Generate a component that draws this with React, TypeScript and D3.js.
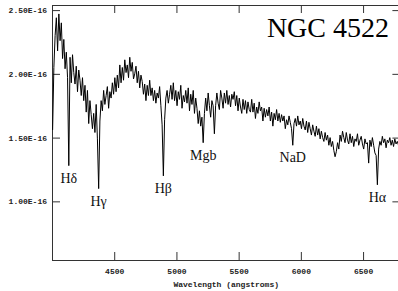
import * as d3 from "d3";
import { useEffect, useRef } from "react";

// flux in units of 1e-16, sampled every 10 angstroms from 4005
const WAVE_START = 4005;
const WAVE_STEP = 10;
const FLUX = [
    1.56, 2.05, 2.30, 2.44, 2.18, 2.47, 2.26, 2.40, 2.12, 2.27,
    2.04, 2.17, 1.97, 1.28, 2.13, 1.93, 2.15, 2.01, 1.92, 2.06,
    1.86, 2.03, 1.95, 1.83, 1.97, 1.79, 1.91, 1.70, 1.87, 1.61,
    1.79, 1.68, 1.57, 1.69, 1.54, 1.76, 1.49, 1.10, 1.63, 1.79,
    1.71, 1.87, 1.76, 1.83, 1.90, 1.73, 1.86, 1.81, 1.93, 1.84,
    1.97, 1.86, 1.99, 1.89, 2.07, 1.93, 2.05, 1.95, 2.11, 2.01,
    2.07, 1.97, 2.13, 2.02, 2.09, 1.96, 2.00, 2.06, 1.93, 2.02,
    1.89, 1.99, 1.94, 1.84, 1.92, 1.79, 1.91, 1.83, 1.95, 1.83,
    1.89, 1.79, 1.87, 1.77, 1.85, 1.81, 1.90, 1.75, 1.60, 1.20,
    1.64, 1.81, 1.87, 1.77, 1.84, 1.91, 1.80, 1.93, 1.79, 1.87,
    1.75, 1.86, 1.80, 1.91, 1.73, 1.83, 1.78, 1.87, 1.77, 1.89,
    1.71, 1.84, 1.76, 1.87, 1.69, 1.81, 1.73, 1.61, 1.71, 1.59,
    1.66, 1.46, 1.69, 1.81, 1.71, 1.85, 1.75, 1.66, 1.79, 1.75,
    1.53, 1.75, 1.85, 1.77, 1.72, 1.87, 1.81, 1.73, 1.85, 1.77,
    1.87, 1.76, 1.83, 1.74, 1.84, 1.80, 1.86, 1.75, 1.83, 1.71,
    1.81, 1.74, 1.69, 1.80, 1.72, 1.79, 1.69, 1.78, 1.72, 1.70,
    1.80, 1.70, 1.77, 1.65, 1.74, 1.69, 1.78, 1.71, 1.74, 1.63,
    1.73, 1.66, 1.72, 1.67, 1.74, 1.63, 1.70, 1.59, 1.69, 1.64,
    1.72, 1.63, 1.69, 1.62, 1.68, 1.63, 1.67, 1.57, 1.64, 1.60,
    1.67, 1.62, 1.57, 1.44, 1.61, 1.65, 1.59, 1.67, 1.60, 1.63,
    1.57, 1.65, 1.59, 1.56, 1.63, 1.54, 1.62, 1.57, 1.52, 1.60,
    1.55, 1.51, 1.59, 1.52, 1.57, 1.49, 1.55, 1.50, 1.47, 1.54,
    1.48, 1.52, 1.44, 1.50, 1.43, 1.47, 1.40, 1.35, 1.39, 1.46,
    1.41, 1.52, 1.47, 1.55, 1.50, 1.46, 1.54, 1.48, 1.45, 1.53,
    1.46, 1.51, 1.43, 1.49, 1.47, 1.53, 1.44, 1.48, 1.51, 1.45,
    1.41, 1.49, 1.45, 1.46, 1.30, 1.48, 1.43, 1.50, 1.44, 1.38,
    1.36, 1.13, 1.41, 1.47, 1.44, 1.51, 1.46, 1.49, 1.42, 1.48,
    1.46, 1.50, 1.44, 1.48, 1.43, 1.49, 1.45, 1.47, 1.44, 1.46,
];

const LINE_NAMES = ["H\u03b4", "H\u03b3", "H\u03b2", "Mgb", "NaD", "H\u03b1"];
const LINE_WAVES = [4135, 4375, 4895, 5215, 5935, 6615];

const X_TICKS = [4500, 5000, 5500, 6000, 6500];
const Y_TICKS = [1.0, 1.5, 2.0, 2.5];

const TITLE = "NGC 4522";
const X_LABEL = "Wavelength (angstroms)";

export default function App() {
    const svgRef = useRef<SVGSVGElement | null>(null);

    useEffect(() => {
        if (!svgRef.current) return;
        const svg = d3.select(svgRef.current);
        svg.selectAll("*").remove();

        const totalW = 398;
        const totalH = 291;
        const left = 52, right = 400.4, top = 5, bottom = 260;

        svg.append("rect").attr("width", totalW).attr("height", totalH).attr("fill", "#fff");

        const x = d3.scaleLinear().domain([4000, 6800]).range([left, right]);
        const y = d3.scaleLinear().domain([0.54, 2.54]).range([bottom, top]);

        const mono = "'Liberation Mono', 'DejaVu Sans Mono', monospace";
        const serif = "'Liberation Serif', 'DejaVu Serif', serif";

        const styleAxis = (g: any) => {
            g.selectAll(".tick line").attr("stroke", "#333");
            g.selectAll(".tick text")
                .attr("font-family", mono)
                .attr("font-size", 8)
                .attr("font-weight", "bold")
                .attr("fill", "#222");
        };

        svg.append("g")
            .attr("transform", `translate(0,${bottom})`)
            .call(d3.axisBottom(x).tickValues(X_TICKS).tickSize(-8).tickSizeOuter(0).tickPadding(8).tickFormat(d3.format("d")))
            .call(styleAxis);
        svg.append("g")
            .attr("transform", `translate(0,${top})`)
            .call(d3.axisTop(x).tickValues(X_TICKS).tickSize(-8).tickSizeOuter(0).tickFormat(() => ""))
            .call(styleAxis);
        svg.append("g")
            .attr("transform", `translate(${left},0)`)
            .call(d3.axisLeft(y).tickValues(Y_TICKS).tickSize(-8).tickSizeOuter(0).tickPadding(5)
                .tickFormat((d) => `${(+d).toFixed(2)}E-16`))
            .call(styleAxis);
        svg.append("g")
            .attr("transform", `translate(${right},0)`)
            .call(d3.axisRight(y).tickValues(Y_TICKS).tickSize(-8).tickSizeOuter(0).tickFormat(() => ""))
            .call(styleAxis);

        svg.selectAll(".domain").remove();
        svg.append("rect")
            .attr("x", left + 0.5).attr("y", top + 0.5)
            .attr("width", right - left).attr("height", bottom - top)
            .attr("fill", "none").attr("stroke", "#333");

        const line = d3.line<number>()
            .x((d, i) => x(WAVE_START + i * WAVE_STEP))
            .y((d) => y(d));

        svg.append("path")
            .datum(FLUX)
            .attr("fill", "none")
            .attr("stroke", "#000")
            .attr("stroke-width", 1)
            .attr("d", line);

        // labels sit a little under the bottom of each absorption line
        LINE_WAVES.forEach((w, k) => {
            const near = FLUX.filter((f, i) => Math.abs(WAVE_START + i * WAVE_STEP - w) <= 15);
            const lo = d3.min(near)!;
            svg.append("text")
                .attr("x", x(w))
                .attr("y", y(lo) + 17)
                .attr("text-anchor", "middle")
                .attr("font-family", serif)
                .attr("font-size", 14)
                .attr("fill", "#111")
                .text(LINE_NAMES[k]);
        });

        svg.append("text")
            .attr("x", 389)
            .attr("y", 37)
            .attr("text-anchor", "end")
            .attr("font-family", serif)
            .attr("font-size", 28)
            .attr("fill", "#000")
            .text(TITLE);

        svg.append("text")
            .attr("x", (left + right) / 2)
            .attr("y", 287)
            .attr("text-anchor", "middle")
            .attr("font-family", mono)
            .attr("font-size", 8)
            .attr("font-weight", "bold")
            .attr("fill", "#222")
            .text(X_LABEL);
    }, []);

    return (
        <svg
            ref={svgRef}
            width={398}
            height={291}
            style={{ position: "absolute", left: 0, top: 0 }}
        />
    );
}
